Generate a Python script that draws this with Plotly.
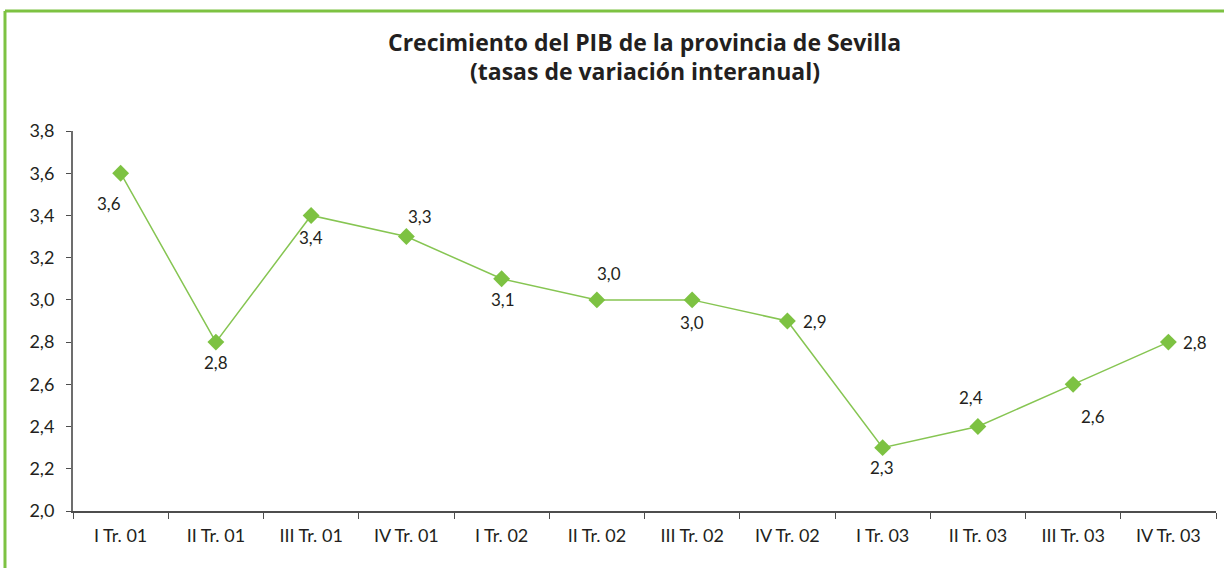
import plotly.graph_objects as go

categories = ["I Tr. 01", "II Tr. 01", "III Tr. 01", "IV Tr. 01",
              "I Tr. 02", "II Tr. 02", "III Tr. 02", "IV Tr. 02",
              "I Tr. 03", "II Tr. 03", "III Tr. 03", "IV Tr. 03"]
values = [3.6, 2.8, 3.4, 3.3, 3.1, 3.0, 3.0, 2.9, 2.3, 2.4, 2.6, 2.8]
y_ticks = [2.0, 2.2, 2.4, 2.6, 2.8, 3.0, 3.2, 3.4, 3.6, 3.8]
title_lines = ["Crecimiento del PIB de la provincia de Sevilla",
               "(tasas de variación interanual)"]

# label offsets (pixels) per point
label_offsets = [(-12, -30), (0, -20), (0, -22), (14, 20), (1, -21), (12, 26),
                 (0, -23), (28, 0), (-1, -20), (-7, 29), (20, -32), (27, 0)]

GREEN = "#7dc242"
FONT = "Lato, 'Open Sans', sans-serif"
TITLE_FONT = "'Open Sans', sans-serif"

fig = go.Figure()
fig.add_trace(go.Scatter(
    x=categories, y=values, mode="lines+markers",
    line=dict(color="#86c552", width=1.5),
    marker=dict(symbol="diamond", size=13, color=GREEN),
    hoverinfo="skip", showlegend=False,
))

for c, v, (dx, dy) in zip(categories, values, label_offsets):
    fig.add_annotation(x=c, y=v, text=f"{v:.1f}".replace(".", ","),
                       showarrow=False, xshift=dx, yshift=dy,
                       font=dict(family=FONT, size=17, color="#231f20"))

# title as two centred lines
for line, yp in zip(title_lines, [1.2355, 1.1566]):
    fig.add_annotation(xref="paper", yref="paper", x=0.5, y=yp, text=f"<b>{line}</b>",
                       showarrow=False, xanchor="center", yanchor="middle",
                       font=dict(family=TITLE_FONT, size=23, color="#231f20"))

# green frame (top and left)
fig.add_shape(type="line", xref="paper", yref="paper", x0=-0.0595, x1=1.05,
              y0=1.3158, y1=1.3158, line=dict(color=GREEN, width=3))
fig.add_shape(type="line", xref="paper", yref="paper", x0=-0.0595, x1=-0.0595,
              y0=-0.2, y1=1.3158, line=dict(color=GREEN, width=3))

fig.update_layout(
    width=1224, height=568,
    margin=dict(l=73, r=8, t=131, b=57),
    paper_bgcolor="white", plot_bgcolor="white",
    font=dict(family=FONT, size=17, color="#231f20"),
)
fig.update_xaxes(type="category", showline=True, linecolor="#4d4d4d", linewidth=1.5,
                 ticks="outside", ticklen=6, tickcolor="#4d4d4d", tickson="boundaries",
                 showgrid=False, zeroline=False, ticklabelstandoff=8,
                 tickfont=dict(family=FONT, size=18, color="#231f20"),
                 range=[-0.5, 11.5])
fig.update_yaxes(range=[2.0, 3.8], tickvals=y_ticks,
                 ticktext=[f"{t:.1f}".replace(".", ",") for t in y_ticks],
                 showline=True, linecolor="#6d6d6d", linewidth=2,
                 ticks="outside", ticklen=5, tickcolor="#4d4d4d",
                 showgrid=False, zeroline=False, ticklabelstandoff=8,
                 tickfont=dict(family=FONT, size=18, color="#231f20"))

fig.write_html("out.html", config={"displayModeBar": False},
               post_script="document.body.style.margin='0';")
